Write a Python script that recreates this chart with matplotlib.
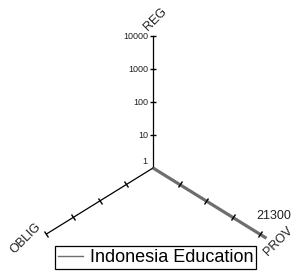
import numpy as np
import matplotlib.pyplot as plt
from matplotlib.lines import Line2D
from matplotlib.markers import MarkerStyle
from matplotlib.transforms import Affine2D

plt.rcParams['font.family'] = ['Liberation Sans', 'DejaVu Sans']

# data
axis_names = ['REG', 'OBLIG', 'PROV']
reg_ticks = [1, 10, 100, 1000, 10000]
reg_tick_labels = ['1', '10', '100', '1000', '10000']
oblig_ticks = [1, 2, 3, 4]
prov_ticks = [5000, 10000, 15000, 20000]
series_name = 'Indonesia Education'
series_values = [1, 0, 21300]  # REG, OBLIG, PROV

# scales: each axis radius 0..1
def r_reg(v):
    return np.log10(v) / 4.0

def r_oblig(v):
    return np.asarray(v) / 4.0

def r_prov(v):
    return np.asarray(v) / 20000.0

scales = [r_reg, r_oblig, r_prov]
angles = np.deg2rad([90, 210, 330])

fig = plt.figure(figsize=(3.02, 2.77), dpi=100)
ax = fig.add_axes([0, 0, 1, 1])
ax.set_xlim(-1.244, 1.211)
ax.set_ylim(-0.826, 1.273)
ax.axis('off')

# axis lines
for a in angles:
    ax.plot([0, np.cos(a)], [0, np.sin(a)], color='black', lw=0.9, zorder=2)

# ticks
tick_sets = [reg_ticks, oblig_ticks, prov_ticks]
for i, (a, ticks) in enumerate(zip(angles, tick_sets)):
    r = scales[i](np.array(ticks, dtype=float))
    xs, ys = r * np.cos(a), r * np.sin(a)
    # direction of axis in display space, ticks perpendicular
    p0 = ax.transData.transform((0, 0))
    p1 = ax.transData.transform((np.cos(a), np.sin(a)))
    ang = np.degrees(np.arctan2(p1[1] - p0[1], p1[0] - p0[0])) + 90
    m = MarkerStyle('_', transform=Affine2D().rotate_deg(ang))
    if i == 0:
        xs, ys = xs[1:], ys[1:]
    ax.plot(xs, ys, ls='none', marker=m, ms=5, mew=1.0, color='black', zorder=4)

# REG tick labels
for t, lab in zip(reg_ticks, reg_tick_labels):
    r = r_reg(t)
    if t == 1:
        ax.annotate(lab, (0, 0), xytext=(-6, 2), textcoords='offset pixels',
                    ha='right', va='bottom', fontsize=6.5, color='#222222')
    else:
        ax.annotate(lab, (0, r), xytext=(-5, 0), textcoords='offset pixels',
                    ha='right', va='center', fontsize=6.5, color='#222222')

# axis names
name_offsets = [(2, 17), (-21, -4), (19, -7)]
for a, name, off in zip(angles, axis_names, name_offsets):
    ax.annotate(name, (np.cos(a), np.sin(a)), xytext=off, textcoords='offset pixels',
                ha='center', va='center', rotation=45, fontsize=9, color='#222222')

# series (REG and OBLIG sit at the centre, so only the PROV spoke shows)
rs = [s(v) if v > 0 else 0.0 for s, v in zip(scales, series_values)]
px = [r * np.cos(a) for r, a in zip(rs, angles)]
py = [r * np.sin(a) for r, a in zip(rs, angles)]
ax.plot(px, py, color='#6e6e6e', lw=2.3, zorder=3, solid_capstyle='butt')
ax.annotate(str(series_values[2]), (px[2], py[2]), xytext=(7, 22),
            textcoords='offset pixels', ha='center', va='center', fontsize=9,
            color='#222222')

handle = Line2D([], [], color='#6e6e6e', lw=1.0)
leg = fig.legend([handle], [series_name], loc='center',
                 bbox_to_anchor=(0.515, 0.070), fontsize=13, fancybox=False,
                 edgecolor='black', framealpha=1, handlelength=1.4,
                 handletextpad=0.35, borderpad=0.15, borderaxespad=0)
leg.get_frame().set_linewidth(0.9)

fig.savefig('out.png', dpi=100)
